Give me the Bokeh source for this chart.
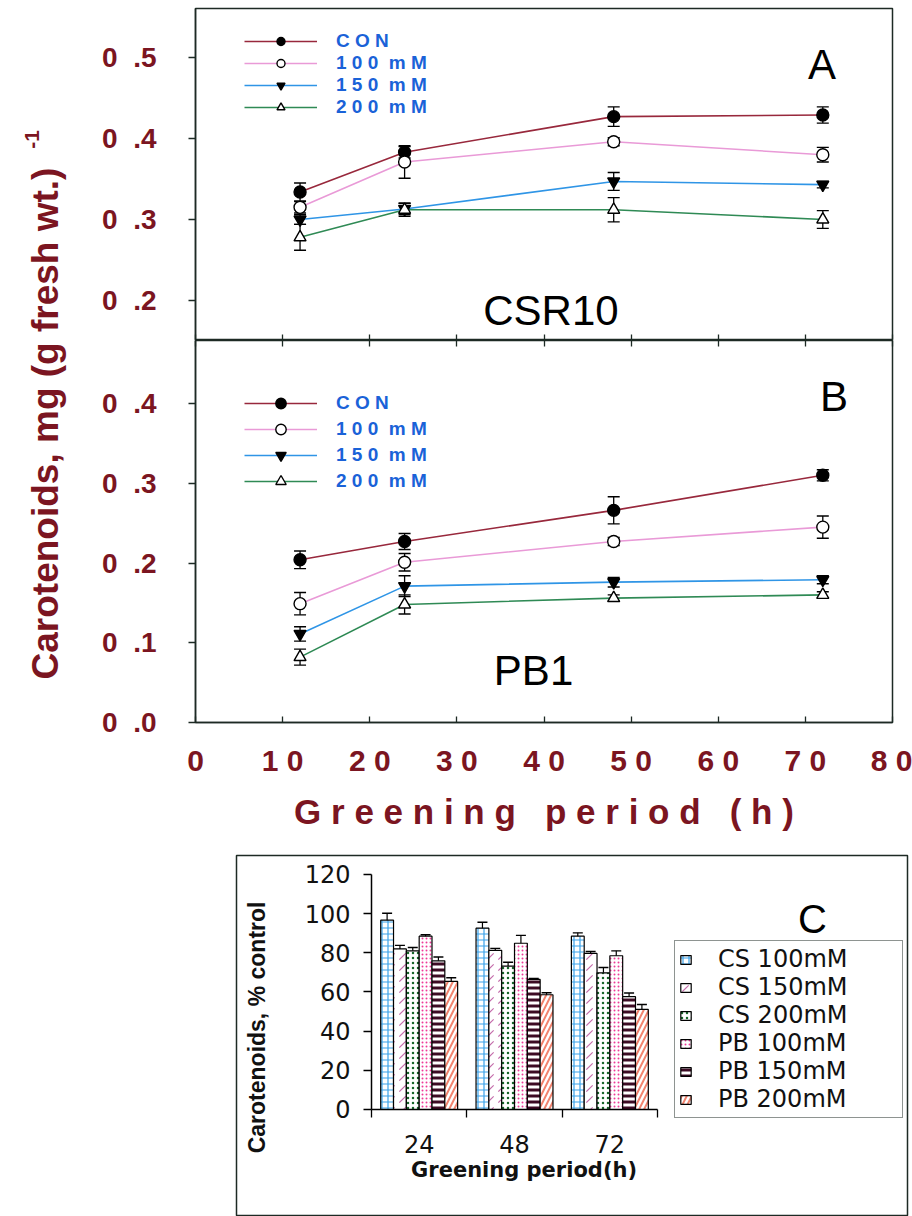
from math import pi
from bokeh.plotting import figure
from bokeh.models import (Range1d, LinearAxis, FixedTicker, ColumnDataSource, Legend,
                          LegendItem, Label)
from bokeh.layouts import column, row
from bokeh.embed import file_html
from bokeh.resources import INLINE
from bokeh.transform import dodge
from bokeh.core.properties import value

# ---------------- data: panels A and B ----------------
hours = [12, 24, 48, 72]
treatments = ["CON", "100 mM", "150 mM", "200 mM"]

csr10_con = [0.334, 0.383, 0.427, 0.429]
csr10_con_err = [0.011, 0.007, 0.012, 0.010]
csr10_100 = [0.315, 0.371, 0.396, 0.380]
csr10_100_err = [0.007, 0.020, 0.005, 0.009]
csr10_150 = [0.300, 0.313, 0.347, 0.343]
csr10_150_err = [0.006, 0.007, 0.011, 0.004]
csr10_200 = [0.278, 0.312, 0.312, 0.300]
csr10_200_err = [0.016, 0.008, 0.015, 0.011]

pb1_con = [0.204, 0.227, 0.266, 0.310]
pb1_con_err = [0.011, 0.010, 0.017, 0.007]
pb1_100 = [0.149, 0.201, 0.227, 0.245]
pb1_100_err = [0.014, 0.011, 0.005, 0.014]
pb1_150 = [0.111, 0.171, 0.176, 0.179]
pb1_150_err = [0.009, 0.013, 0.006, 0.005]
pb1_200 = [0.082, 0.148, 0.156, 0.160]
pb1_200_err = [0.010, 0.012, 0.004, 0.004]

x_ticks = [0, 10, 20, 30, 40, 50, 60, 70, 80]
y_ticks_a = [0.2, 0.3, 0.4, 0.5]
y_ticks_b = [0.0, 0.1, 0.2, 0.3, 0.4]

# ---------------- data: panel C ----------------
periods = ["24", "48", "72"]
bar_series = ["CS 100mM", "CS 150mM", "CS 200mM", "PB 100mM", "PB 150mM", "PB 200mM"]
cs100 = [96.7, 92.6, 88.5]
cs100_err = [3.5, 3.0, 1.7]
cs150 = [82.0, 81.3, 79.7]
cs150_err = [1.8, 1.0, 1.0]
cs200 = [81.0, 73.2, 69.8]
cs200_err = [1.7, 2.0, 2.7]
pb100 = [88.5, 84.9, 78.5]
pb100_err = [0.7, 4.0, 2.5]
pb150 = [75.9, 66.4, 57.6]
pb150_err = [2.0, 0.5, 1.9]
pb200 = [65.4, 58.6, 51.1]
pb200_err = [1.9, 1.0, 2.5]
y_ticks_c = [0, 20, 40, 60, 80, 100, 120]

# ---------------- styles ----------------
MAROON = "#7b1521"
FRAME = "#1d2a24"
BLUE_TXT = "#1a62d8"
LINE_COLORS = ["#98283c", "#e99ad7", "#2f95e6", "#2f8a55"]
MARKERS = [("circle", "black"), ("circle", "white"), ("inverted_triangle", "black"), ("triangle", "white")]
NB = "\u00a0"


def spaced(s, gap=2):
    return (NB * gap).join(NB.join(w) for w in s.split(" "))


def tick_label(v):
    return f"{v:.1f}".replace(".", NB + NB + ".")


def style_common(p):
    p.xgrid.visible = False
    p.ygrid.visible = False
    p.outline_line_color = FRAME
    p.outline_line_width = 1.5
    p.background_fill_color = "white"
    p.border_fill_color = "white"


def left_axis(ticks):
    return LinearAxis(ticker=FixedTicker(ticks=ticks),
                      major_label_overrides={t: tick_label(t) for t in ticks},
                      major_label_text_font="Liberation Sans", major_label_text_font_style="bold",
                      major_label_text_font_size="28px", major_label_text_color=MAROON,
                      major_label_standoff=32, major_tick_out=7, major_tick_in=0,
                      minor_tick_line_color=None, axis_line_color=FRAME, axis_line_width=1.5,
                      major_tick_line_color=FRAME, major_tick_line_width=1.3)


def hidden_x_axis():
    return LinearAxis(ticker=FixedTicker(ticks=x_ticks),
                      major_label_overrides={t: "" for t in x_ticks},
                      major_label_text_font_size="0px", major_label_standoff=0,
                      major_tick_out=0, major_tick_in=6, minor_tick_line_color=None,
                      axis_line_color=FRAME, major_tick_line_color=FRAME, major_tick_line_width=1.3)


def draw_series(p, means, errs):
    line_rs, mark_rs = [], []
    srcs = []
    for i, (m, e) in enumerate(zip(means, errs)):
        src = ColumnDataSource(dict(h=hours, m=m,
                                    lo=[a - b for a, b in zip(m, e)],
                                    hi=[a + b for a, b in zip(m, e)]))
        srcs.append(src)
        lr = p.line("h", "m", source=src, line_color=LINE_COLORS[i], line_width=1.6)
        line_rs.append(lr)
    for i, src in enumerate(srcs):
        p.segment(x0="h", y0="lo", x1="h", y1="hi", source=src, line_color="black", line_width=1.3)
        p.scatter("h", "lo", source=src, marker="dash", size=12, line_color="black", line_width=1.4)
        p.scatter("h", "hi", source=src, marker="dash", size=12, line_color="black", line_width=1.4)
        mk, fc = MARKERS[i]
        mr = p.scatter("h", "m", source=src, marker=mk, size=12, fill_color=fc,
                       line_color="black", line_width=1.4)
        mark_rs.append(mr)
    return line_rs, mark_rs


def add_legend(p, line_rs, mark_rs, loc, row_h):
    items = [LegendItem(label=spaced(t), renderers=[lr, mr])
             for t, lr, mr in zip(treatments, line_rs, mark_rs)]
    leg = Legend(items=items, location=loc, glyph_width=73, glyph_height=row_h,
                 label_height=row_h, spacing=0, padding=0, margin=0, label_standoff=19,
                 border_line_color=None, background_fill_alpha=0,
                 label_text_font="Liberation Sans", label_text_font_style="bold",
                 label_text_font_size="19px", label_text_color=BLUE_TXT)
    p.add_layout(leg)


# ---------------- y label strip ----------------
ylab = figure(width=70, height=840, x_range=Range1d(0, 70), y_range=Range1d(840, 0),
              x_axis_location=None, y_axis_location=None, toolbar_location=None,
              output_backend="svg", min_border=0, outline_line_color=None)
ylab.xgrid.visible = False
ylab.ygrid.visible = False
ylab.add_layout(Label(x=45, y=423, text="Carotenoids, mg (g fresh wt.)", angle=pi / 2,
                      text_align="center", text_baseline="middle", text_font="Liberation Sans",
                      text_font_style="bold", text_font_size="37px", text_color=MAROON))
ylab.add_layout(Label(x=31, y=139, text="-1", angle=pi / 2, text_align="center",
                      text_baseline="middle", text_font="Liberation Sans",
                      text_font_style="bold", text_font_size="21px", text_color=MAROON))

# ---------------- panel A ----------------
pA = figure(width=842, height=340, x_range=Range1d(0, 80), y_range=Range1d(0.1506, 0.5605),
            x_axis_location=None, y_axis_location=None, toolbar_location=None,
            output_backend="svg", min_border_left=125, min_border_right=20,
            min_border_top=8, min_border_bottom=0)
style_common(pA)
pA.add_layout(left_axis(y_ticks_a), "left")
pA.add_layout(hidden_x_axis(), "below")
lrA, mrA = draw_series(pA, [csr10_con, csr10_100, csr10_150, csr10_200],
                       [csr10_con_err, csr10_100_err, csr10_150_err, csr10_200_err])
add_legend(pA, lrA, mrA, (49, 222), 20)
pA.add_layout(Label(x=71.9, y=0.4914, text="A", text_align="center", text_baseline="middle",
                    text_font="Liberation Sans", text_font_size="42px", text_color="black"))
pA.add_layout(Label(x=40.8, y=0.1877, text="CSR10", text_align="center", text_baseline="middle",
                    text_font="Liberation Sans", text_font_size="42px", text_color="black"))

# ---------------- panel B ----------------
pB = figure(width=842, height=500, x_range=Range1d(0, 80), y_range=Range1d(0, 0.479),
            x_axis_location=None, y_axis_location=None, toolbar_location=None,
            output_backend="svg", min_border_left=125, min_border_right=20,
            min_border_top=0, min_border_bottom=118)
style_common(pB)
pB.add_layout(left_axis(y_ticks_b), "left")
pB.add_layout(hidden_x_axis(), "above")
xb = LinearAxis(ticker=FixedTicker(ticks=x_ticks),
                major_label_overrides={t: NB.join(str(t)) for t in x_ticks},
                major_label_text_font="Liberation Sans", major_label_text_font_style="bold",
                major_label_text_font_size="30px", major_label_text_color=MAROON,
                major_label_standoff=21, major_tick_out=0, major_tick_in=6,
                minor_tick_line_color=None, axis_line_color=FRAME, axis_line_width=1.5,
                major_tick_line_color=FRAME, major_tick_line_width=1.3,
                axis_label=spaced("Greening period (h)", 3), axis_label_standoff=12,
                axis_label_text_font="Liberation Sans", axis_label_text_font_style="bold",
                axis_label_text_font_size="35px", axis_label_text_color=MAROON)
pB.add_layout(xb, "below")
lrB, mrB = draw_series(pB, [pb1_con, pb1_100, pb1_150, pb1_200],
                       [pb1_con_err, pb1_100_err, pb1_150_err, pb1_200_err])
add_legend(pB, lrB, mrB, (49, 228), 26)
pB.add_layout(Label(x=73.3, y=0.409, text="B", text_align="center", text_baseline="middle",
                    text_font="Liberation Sans", text_font_size="42px", text_color="black"))
pB.add_layout(Label(x=38.8, y=0.065, text="PB1", text_align="center", text_baseline="middle",
                    text_font="Liberation Sans", text_font_size="42px", text_color="black"))

# ---------------- panel C ----------------
# the frame is the outer box of the inset; the axes sit at x=0 / y=0 inside it
n_groups = len(periods)
group_pos = [i + 0.5 for i in range(n_groups)]
pC = figure(width=912, height=376, x_range=Range1d(-1.416, 5.622), y_range=Range1d(-54.64, 129.70),
            x_axis_location=None, y_axis_location=None, toolbar_location=None,
            output_backend="svg", min_border_left=236, min_border_right=5,
            min_border_top=15, min_border_bottom=0)
pC.xgrid.visible = False
pC.ygrid.visible = False
pC.outline_line_color = FRAME
pC.outline_line_width = 1.5

yc = LinearAxis(ticker=FixedTicker(ticks=y_ticks_c), fixed_location=0, bounds=(0, 120),
                major_label_text_font="DejaVu Sans",
                major_label_text_font_size="24px", major_label_text_color="#111111",
                major_label_standoff=13, major_tick_out=8, major_tick_in=0,
                minor_tick_line_color=None, axis_line_color="black", axis_line_width=1.5,
                major_tick_line_color="black", major_tick_line_width=1.3)
pC.add_layout(yc, "left")
xc = LinearAxis(ticker=FixedTicker(ticks=group_pos, minor_ticks=list(range(n_groups + 1))),
                fixed_location=0, bounds=(0, n_groups),
                major_label_overrides={p: "" for p in group_pos},
                major_label_text_font_size="0px", major_label_standoff=0,
                major_tick_line_color=None, major_tick_out=0, major_tick_in=0,
                minor_tick_out=8, minor_tick_in=0, minor_tick_line_color="black",
                minor_tick_line_width=1.3, axis_line_color="black", axis_line_width=1.5)
pC.add_layout(xc, "below")

bar_values = [cs100, cs150, cs200, pb100, pb150, pb200]
bar_errs = [cs100_err, cs150_err, cs200_err, pb100_err, pb150_err, pb200_err]
hatches = [
    dict(hatch_pattern="cross", hatch_color="#3aa2ea", hatch_scale=6, hatch_weight=1.2),
    dict(hatch_pattern="right_diagonal_dash", hatch_color="#c46cab", hatch_scale=11, hatch_weight=1.2),
    dict(hatch_pattern="dot", hatch_color="#17662a", hatch_scale=5, hatch_weight=4),
    dict(hatch_pattern="dot", hatch_color="#ee3a98", hatch_scale=4, hatch_weight=4),
    dict(hatch_pattern="horizontal_line", hatch_color="#3d0b24", hatch_scale=6, hatch_weight=3),
    dict(hatch_pattern="right_diagonal_line", hatch_color="#f2846f", hatch_scale=10, hatch_weight=2),
]
bar_w = 0.1345
bar_src = ColumnDataSource(dict(period=periods, pos=group_pos))
for k, (vals, errs) in enumerate(zip(bar_values, bar_errs)):
    bar_src.data[f"v{k}"] = vals
    bar_src.data[f"hi{k}"] = [a + b for a, b in zip(vals, errs)]

bar_rs = []
n = len(bar_series)
for k in range(n):
    off = (k - (n - 1) / 2) * bar_w
    xk = dodge("pos", off, range=pC.x_range)
    r = pC.vbar(x=xk, top=f"v{k}", width=bar_w, source=bar_src, fill_color="white",
                line_color="black", line_width=1.2, **hatches[k])
    bar_rs.append(r)
    pC.segment(x0=xk, y0=f"v{k}", x1=xk, y1=f"hi{k}", source=bar_src,
               line_color="black", line_width=1.2)
    pC.scatter(x=xk, y=f"hi{k}", source=bar_src, marker="dash", size=10,
               line_color="black", line_width=1.4)

# category labels of the x axis, set just below the axis line
pC.text(x="pos", y=dodge("zero", -17.4), text="period",
        source=ColumnDataSource(dict(pos=group_pos, period=periods, zero=[0] * n_groups)),
        text_font=value("DejaVu Sans"), text_font_size=value("24px"), text_color="#111111",
        text_align="center", text_baseline="middle")
pC.add_layout(Label(x=1.6, y=-30.8, text="Greening period(h)", text_align="center",
                    text_baseline="middle", text_font="DejaVu Sans", text_font_style="bold",
                    text_font_size="21px", text_color="#111111"))

legC = Legend(items=[LegendItem(label=s, renderers=[r]) for s, r in zip(bar_series, bar_rs)],
              location=(438, 98), glyph_width=13, glyph_height=11, label_height=28,
              spacing=0, padding=4, margin=0, label_standoff=26, label_width=180,
              border_line_color=FRAME, border_line_width=1.5, background_fill_color="white",
              label_text_font="DejaVu Sans", label_text_font_size="24px",
              label_text_color="#111111")
pC.add_layout(legC)
pC.add_layout(Label(x=-1.196, y=41.9, text="Carotenoids, % control",
                    angle=pi / 2, text_align="center", text_baseline="middle",
                    text_font="Liberation Sans", text_font_style="bold", text_font_size="23px",
                    text_color="#111111"))
pC.add_layout(Label(x=4.626, y=97.5, text="C", text_align="center",
                    text_baseline="middle", text_font="Liberation Sans", text_font_size="40px",
                    text_color="black"))

layout = column(row(ylab, column(pA, pB)), pC)
open("out.html", "w").write(file_html(layout, INLINE, title="Carotenoids"))
